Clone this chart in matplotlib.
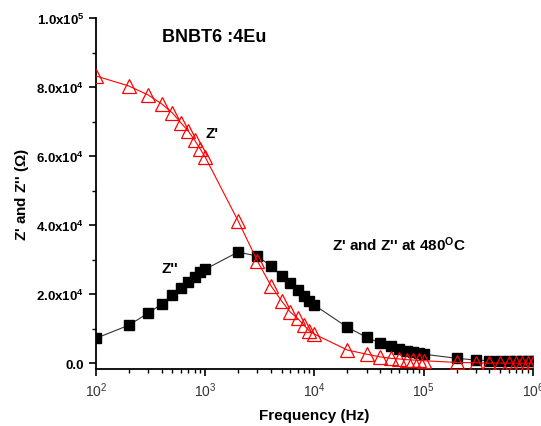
import numpy as np
import matplotlib
matplotlib.use('Agg')
import matplotlib.pyplot as plt
from matplotlib.ticker import FixedLocator, MultipleLocator, LogLocator, FuncFormatter

plt.rcParams['font.family'] = ['Liberation Sans', 'DejaVu Sans']
plt.rcParams['mathtext.default'] = 'regular'

freq = [100, 200, 300, 400, 500, 600, 700, 800, 900,
        1e3, 2e3, 3e3, 4e3, 5e3, 6e3, 7e3, 8e3, 9e3,
        1e4, 2e4, 3e4, 4e4, 5e4, 6e4, 7e4, 8e4, 9e4,
        1e5, 2e5, 3e5, 4e5, 5e5, 6e5, 7e5, 8e5, 9e5, 1e6]

z_real = [83.2e3, 80.3e3, 77.7e3, 75.1e3, 72.5e3, 69.6e3, 67.2e3, 64.6e3, 62.0e3,
          59.7e3, 41.2e3, 29.6e3, 22.4e3, 18.0e3, 14.8e3, 13.0e3, 11.0e3, 9.3e3,
          8.4e3, 3.8e3, 2.6e3, 1.8e3, 1.4e3, 1.2e3, 1.0e3, 0.9e3, 0.8e3,
          0.7e3, 0.2e3, 0.1e3, 0.0, 0.0, 0.0, 0.0, 0.0, 0.0, 0.0]

z_imag = [7.2e3, 11.0e3, 14.5e3, 17.1e3, 19.7e3, 21.7e3, 23.5e3, 24.9e3, 26.4e3,
          27.2e3, 32.2e3, 31.0e3, 28.1e3, 25.2e3, 23.2e3, 21.2e3, 19.4e3, 18.0e3,
          16.8e3, 10.4e3, 7.5e3, 5.8e3, 4.9e3, 4.1e3, 3.5e3, 3.2e3, 2.9e3,
          2.6e3, 1.4e3, 0.9e3, 0.7e3, 0.6e3, 0.5e3, 0.5e3, 0.5e3, 0.5e3, 0.5e3]

y_ticks = [0, 2e4, 4e4, 6e4, 8e4, 1e5]
y_tick_labels = ['0.0', '2.0x10$^4$', '4.0x10$^4$', '6.0x10$^4$', '8.0x10$^4$', '1.0x10$^5$']

fig = plt.figure(figsize=(5.41, 4.27), dpi=100)
ax = fig.add_axes([0.1775, 0.1335, 0.8075, 0.822])

ax.plot(freq, z_imag, color='#333333', lw=0.8, marker='s', ms=7,
        mfc='black', mec='black', zorder=2)
ax.plot(freq, z_real, color='red', lw=0.8, marker='^', ms=9.5,
        mfc='none', mec='red', mew=0.9, zorder=3)

ax.set_xscale('log')
ax.set_xlim(100, 1e6)
ax.set_ylim(-1.7e3, 1e5)

ax.spines['top'].set_visible(False)
ax.spines['right'].set_visible(False)
ax.spines['left'].set_linewidth(1.3)
ax.spines['bottom'].set_linewidth(1.3)

ax.yaxis.set_major_locator(FixedLocator(y_ticks))
ax.yaxis.set_major_formatter(FuncFormatter(lambda v, p: y_tick_labels[y_ticks.index(v)] if v in y_ticks else ''))
ax.yaxis.set_minor_locator(MultipleLocator(1e4))
ax.xaxis.set_major_locator(LogLocator(base=10))
ax.xaxis.set_minor_locator(LogLocator(base=10, subs=np.arange(2, 10)))
ax.xaxis.set_minor_formatter(FuncFormatter(lambda v, p: ''))

ax.tick_params(which='major', direction='out', length=5, width=1.2)
ax.tick_params(which='minor', direction='out', length=3, width=1.0)
ax.tick_params(axis='x', which='major', labelsize=10, pad=3, labelcolor='#333333')
ax.tick_params(axis='y', which='major', labelsize=9.5)
for lab in ax.get_yticklabels():
    lab.set_fontweight('bold')

ax.set_xlabel('Frequency (Hz)', fontsize=11, fontweight='bold', labelpad=7)
ax.set_ylabel("Z' and Z'' ($\\Omega$)", fontsize=11, fontweight='bold', labelpad=4)

ax.text(0.15, 0.935, 'BNBT6 :4Eu', transform=ax.transAxes, fontsize=13, fontweight='bold')
ax.text(0.25, 0.66, "Z'", transform=ax.transAxes, fontsize=11, fontweight='bold')
ax.text(0.15, 0.275, "Z''", transform=ax.transAxes, fontsize=11, fontweight='bold')
ax.text(0.54, 0.34, "Z' and Z'' at 480$^{O}$C", transform=ax.transAxes,
        fontsize=11, fontweight='bold')

fig.savefig('out.png', dpi=100)
